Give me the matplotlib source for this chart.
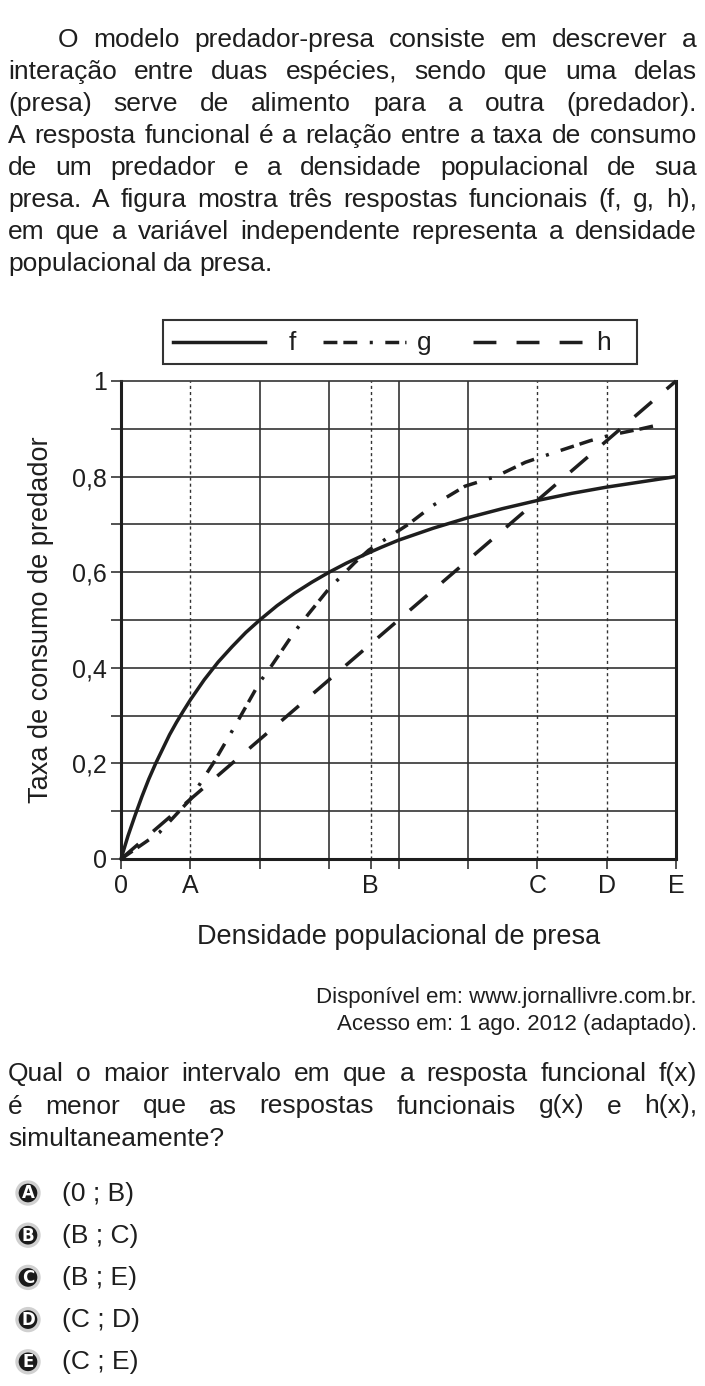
import matplotlib
matplotlib.use("Agg")
import matplotlib.pyplot as plt
from matplotlib.patches import Rectangle, Circle
from matplotlib.lines import Line2D

plt.rcParams["font.family"] = ["Liberation Sans", "DejaVu Sans"]
plt.rcParams["lines.scale_dashes"] = False

# --- dados ---
f_x = [0, 0.05, 0.1, 0.2, 0.3, 0.4, 0.5, 0.6, 0.7, 0.8, 0.9, 1.0, 1.2, 1.4, 1.6,
       1.8, 2, 2.25, 2.5, 2.75, 3, 3.25, 3.5, 3.75, 4, 4.5, 5, 5.5, 6, 6.5, 7, 7.5, 8]
f_vals = [0, 0.024, 0.048, 0.09, 0.13, 0.167, 0.2, 0.23, 0.26, 0.286, 0.31, 0.333,
          0.375, 0.412, 0.444, 0.474, 0.5, 0.53, 0.556, 0.579, 0.6, 0.619, 0.636,
          0.652, 0.667, 0.692, 0.714, 0.733, 0.75, 0.765, 0.778, 0.789, 0.8]

g_x = [0, 0.55, 1, 1.15, 1.35, 1.65, 2, 2.15, 2.5, 2.71, 3, 3.37, 3.57, 4.14,
       4.5, 4.96, 5.4, 5.83, 6.3, 6.76, 7.06, 7.5, 7.74]
g_vals = [0, 0.055, 0.125, 0.16, 0.205, 0.28, 0.37, 0.40, 0.475, 0.514, 0.566,
          0.62, 0.646, 0.70, 0.74, 0.78, 0.80, 0.83, 0.853, 0.875, 0.887, 0.90, 0.908]

h_x = [0, 2, 4, 6, 8]
h_vals = [0, 0.25, 0.5, 0.75, 1]

x_ticks = [0, 1, 2, 3, 3.6, 4, 5, 6, 7, 8]
x_labels = ["0", "A", "", "", "B", "", "", "C", "D", "E"]
marks = [1, 3.6, 6, 7]            # A, B, C, D
solid_x = [2, 3, 4, 5]
y_ticks = [0, 0.1, 0.2, 0.3, 0.4, 0.5, 0.6, 0.7, 0.8, 0.9, 1]
y_labels = ["0", "", "0,2", "", "0,4", "", "0,6", "", "0,8", "", "1"]

paragraph = [
    "O modelo predador-presa consiste em descrever a",
    "interação entre duas espécies, sendo que uma delas",
    "(presa) serve de alimento para a outra (predador).",
    "A resposta funcional é a relação entre a taxa de consumo",
    "de um predador e a densidade populacional de sua",
    "presa. A figura mostra três respostas funcionais (f, g, h),",
    "em que a variável independente representa a densidade",
    "populacional da presa.",
]
question = [
    "Qual o maior intervalo em que a resposta funcional f(x)",
    "é menor que as respostas funcionais g(x) e h(x),",
    "simultaneamente?",
]
options = ["A", "B", "C", "D", "E"]
option_texts = ["(0 ; B)", "(B ; C)", "(B ; E)", "(C ; D)", "(C ; E)"]

INK = "#1e1e1e"
G_DASH = (0, (10, 4.3, 10, 9, 2.2, 9))
H_DASH = (0, (16.5, 14))
BODY = 19

fig = plt.figure(figsize=(7.05, 13.86), dpi=100)
fig.patch.set_facecolor("white")

# camada de texto em pixels
tax = fig.add_axes([0, 0, 1, 1])
tax.set_xlim(0, 705)
tax.set_ylim(1386, 0)
tax.axis("off")
renderer = fig.canvas.get_renderer()


def put_line(line, x0, x1, y, size, justify=True):
    words = line.split()
    gap = size * 100 / 72 * 0.25
    while True:
        texts = [tax.text(0, y, w, fontsize=size, va="baseline", ha="left", color=INK)
                 for w in words]
        widths = [t.get_window_extent(renderer).width for t in texts]
        if not justify or len(words) < 2:
            break
        gap = (x1 - x0 - sum(widths)) / (len(words) - 1)
        if gap >= 3.5:
            break
        for t in texts:
            t.remove()
        size -= 0.25
    x = x0
    for t, w in zip(texts, widths):
        t.set_x(x)
        x += w + gap


for i, line in enumerate(paragraph):
    x0 = 58 if i == 0 else 8
    put_line(line, x0, 697, 47 + 32 * i, BODY, justify=i < len(paragraph) - 1)

# --- grafico ---
ax = fig.add_axes([121 / 705, 1 - 859 / 1386, 555 / 705, 478 / 1386])
ax.set_xlim(0, 8)
ax.set_ylim(0, 1)
for yv in y_ticks[1:-1]:
    ax.axhline(yv, color="#333333", lw=1.2, zorder=1)
for xv in solid_x:
    ax.axvline(xv, color="#333333", lw=1.2, zorder=1)
for xv in marks:
    ax.axvline(xv, color="#333333", lw=1.0, ls=(0, (2.2, 2.2)), zorder=1)

ax.plot(f_x, f_vals, color=INK, lw=2.5, solid_capstyle="round", solid_joinstyle="round",
        clip_on=False, zorder=3)
ax.plot(g_x, g_vals, color=INK, lw=2.5, ls=G_DASH, dash_capstyle="butt", clip_on=False, zorder=3)
ax.plot(h_x, h_vals, color=INK, lw=2.5, ls=H_DASH, dash_capstyle="butt", clip_on=False, zorder=3)

for side in ["left", "bottom", "right"]:
    ax.spines[side].set_linewidth(2.2)
    ax.spines[side].set_color(INK)
ax.spines["top"].set_linewidth(1.2)
ax.spines["top"].set_color("#333333")

ax.set_xticks(x_ticks)
ax.set_xticklabels(x_labels)
ax.set_yticks(y_ticks)
ax.set_yticklabels(y_labels)
ax.tick_params(axis="x", direction="out", length=7, width=1.2, color="#333333",
               labelsize=18, pad=4, labelcolor=INK)
ax.tick_params(axis="y", direction="out", length=7, width=1.2, color="#333333",
               labelsize=18, pad=3, labelcolor=INK)
ax.set_xlabel("Densidade populacional de presa", fontsize=19.5, color=INK, va="center")
ax.xaxis.set_label_coords(0.5, (859 - 937) / 478)
ax.set_ylabel("Taxa de consumo de predador", fontsize=19.5, color=INK, va="center")
ax.yaxis.set_label_coords((41 - 121) / 555, 0.5)

# legenda desenhada a mao
tax.add_patch(Rectangle((163, 320), 474, 44, fill=False, ec="#333333", lw=1.5))
ly = 342
tax.add_line(Line2D([173, 265], [ly, ly], color=INK, lw=2.5))
tax.add_line(Line2D([323, 406], [ly, ly], color=INK, lw=2.5, ls=G_DASH, dash_capstyle="butt"))
tax.add_line(Line2D([473, 587], [ly, ly], color=INK, lw=2.5, ls=(0, (16.5, 14.5)), dash_capstyle="butt"))
for lab, xl in zip(["f", "g", "h"], [292, 424, 604]):
    tax.text(xl, ly + 1, lab, fontsize=19, ha="center", va="center", color=INK)

# fonte
for txt, yy in zip(["Disponível em: www.jornallivre.com.br.",
                    "Acesso em: 1 ago. 2012 (adaptado)."], [1003, 1030]):
    tax.text(697, yy, txt, fontsize=16, ha="right", va="baseline", color=INK)

for i, line in enumerate(question):
    put_line(line, 8, 697, 1081 + 32.5 * i, BODY, justify=i < len(question) - 1)

for i, (lab, txt) in enumerate(zip(options, option_texts)):
    cy = 1193 + 42.2 * i
    tax.add_patch(Circle((28, cy), 11, fc="#1a1a1a", ec="#d0d0d0", lw=2.4))
    tax.text(28, cy + 0.5, lab, fontsize=12, fontweight="bold", color="white",
             ha="center", va="center", family="DejaVu Sans")
    tax.text(62, cy + 7.5, txt, fontsize=19, ha="left", va="baseline", color=INK)

fig.savefig("out.png", dpi=100, facecolor="white")
